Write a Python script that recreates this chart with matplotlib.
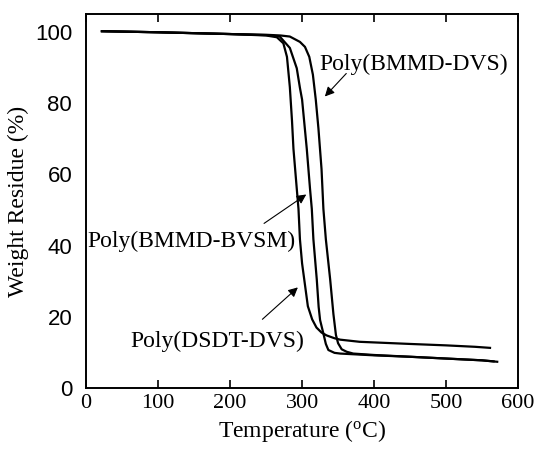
import numpy as np
import matplotlib
matplotlib.use('Agg')
import matplotlib.pyplot as plt

plt.rcParams['mathtext.fontset'] = 'custom'
plt.rcParams['mathtext.rm'] = 'Liberation Serif'
plt.rcParams['mathtext.it'] = 'Liberation Serif:italic'

# TGA curves (temperature in C, weight residue in %)
t_dsdt = [22, 100, 200, 250, 265, 274, 279, 283, 286, 288, 292.6, 295, 297, 300, 304,
          308, 314, 320, 327, 334, 345, 353, 380, 450, 500, 540, 561]
w_dsdt = [100.2, 99.9, 99.4, 99.0, 98.5, 96.8, 93.0, 84.5, 75, 67.2, 56.0, 50.3, 41.8,
          35, 29, 23, 19.3, 17.0, 15.6, 14.8, 14.0, 13.6, 13.0, 12.4, 12.0, 11.6, 11.3]

t_bvsm = [22, 100, 200, 250, 269, 283, 292.6, 297, 300, 306.5, 311, 313.5, 315.7, 320.4,
          323, 325, 329.6, 333, 336.5, 345, 353, 400, 450, 500, 550, 566]
w_bvsm = [100.2, 99.9, 99.4, 99.1, 98.7, 95.5, 89.8, 84.3, 81.0, 67.2, 56.0, 50.3, 41.8,
          30.5, 22.8, 19.1, 15.3, 12.4, 10.7, 9.9, 9.7, 9.2, 8.8, 8.3, 7.8, 7.5]

t_dvs = [22, 100, 200, 250, 270, 283, 297, 304, 310, 315, 319, 322.7, 327, 329.6, 333,
         339, 343.5, 347, 350, 355, 362, 371, 400, 450, 500, 550, 571]
w_dvs = [100.2, 99.9, 99.4, 99.2, 99.0, 98.7, 97.2, 95.8, 93.0, 88.0, 81.0, 72.9, 61.5,
         50.3, 41.8, 30.5, 20.8, 14.9, 12.6, 10.9, 10.2, 9.7, 9.3, 8.8, 8.3, 7.8, 7.4]

x_ticks = [0, 100, 200, 300, 400, 500, 600]
y_ticks = [0, 20, 40, 60, 80, 100]

fig = plt.figure(figsize=(5.38, 4.55), dpi=100)
ax = fig.add_axes([0.160, 0.147, 0.803, 0.822])

for t, w in [(t_dsdt, w_dsdt), (t_bvsm, w_bvsm), (t_dvs, w_dvs)]:
    ax.plot(t, w, color='black', lw=1.6)

ax.set_xlim(0, 600)
ax.set_ylim(0, 105)
ax.set_xticks(x_ticks)
ax.set_yticks(y_ticks)
ax.set_xticklabels([str(v) for v in x_ticks], family='Liberation Serif', fontsize=16)
ax.set_yticklabels([str(v) for v in y_ticks], family='Liberation Sans', fontsize=16)
ax.tick_params(axis='x', direction='in', top=True, length=6, width=1.2, pad=4)
ax.tick_params(axis='y', length=0, pad=10)
for s in ax.spines.values():
    s.set_linewidth(1.4)

ax.set_xlabel(r'Temperature ($^{\rm o}$C)', family='Liberation Serif', fontsize=17)
ax.set_ylabel('Weight Residue (%)', family='Liberation Serif', fontsize=17)

arrow = dict(arrowstyle='-|>', color='black', lw=0.8, mutation_scale=14)
txt = dict(family='Liberation Serif', fontsize=17)
ax.annotate('', xy=(329, 81.3), xytext=(364, 88.9), arrowprops=arrow)
ax.text(324, 91, 'Poly(BMMD-DVS)', va='center', ha='left', **txt)
ax.annotate('', xy=(309, 54.8), xytext=(244, 45.8), arrowprops=arrow)
ax.text(2, 41.3, 'Poly(BMMD-BVSM)', va='center', ha='left', **txt)
ax.annotate('', xy=(297, 28.8), xytext=(242, 18.8), arrowprops=arrow)
ax.text(61, 13, 'Poly(DSDT-DVS)', va='center', ha='left', **txt)

fig.savefig('out.png', dpi=100)
